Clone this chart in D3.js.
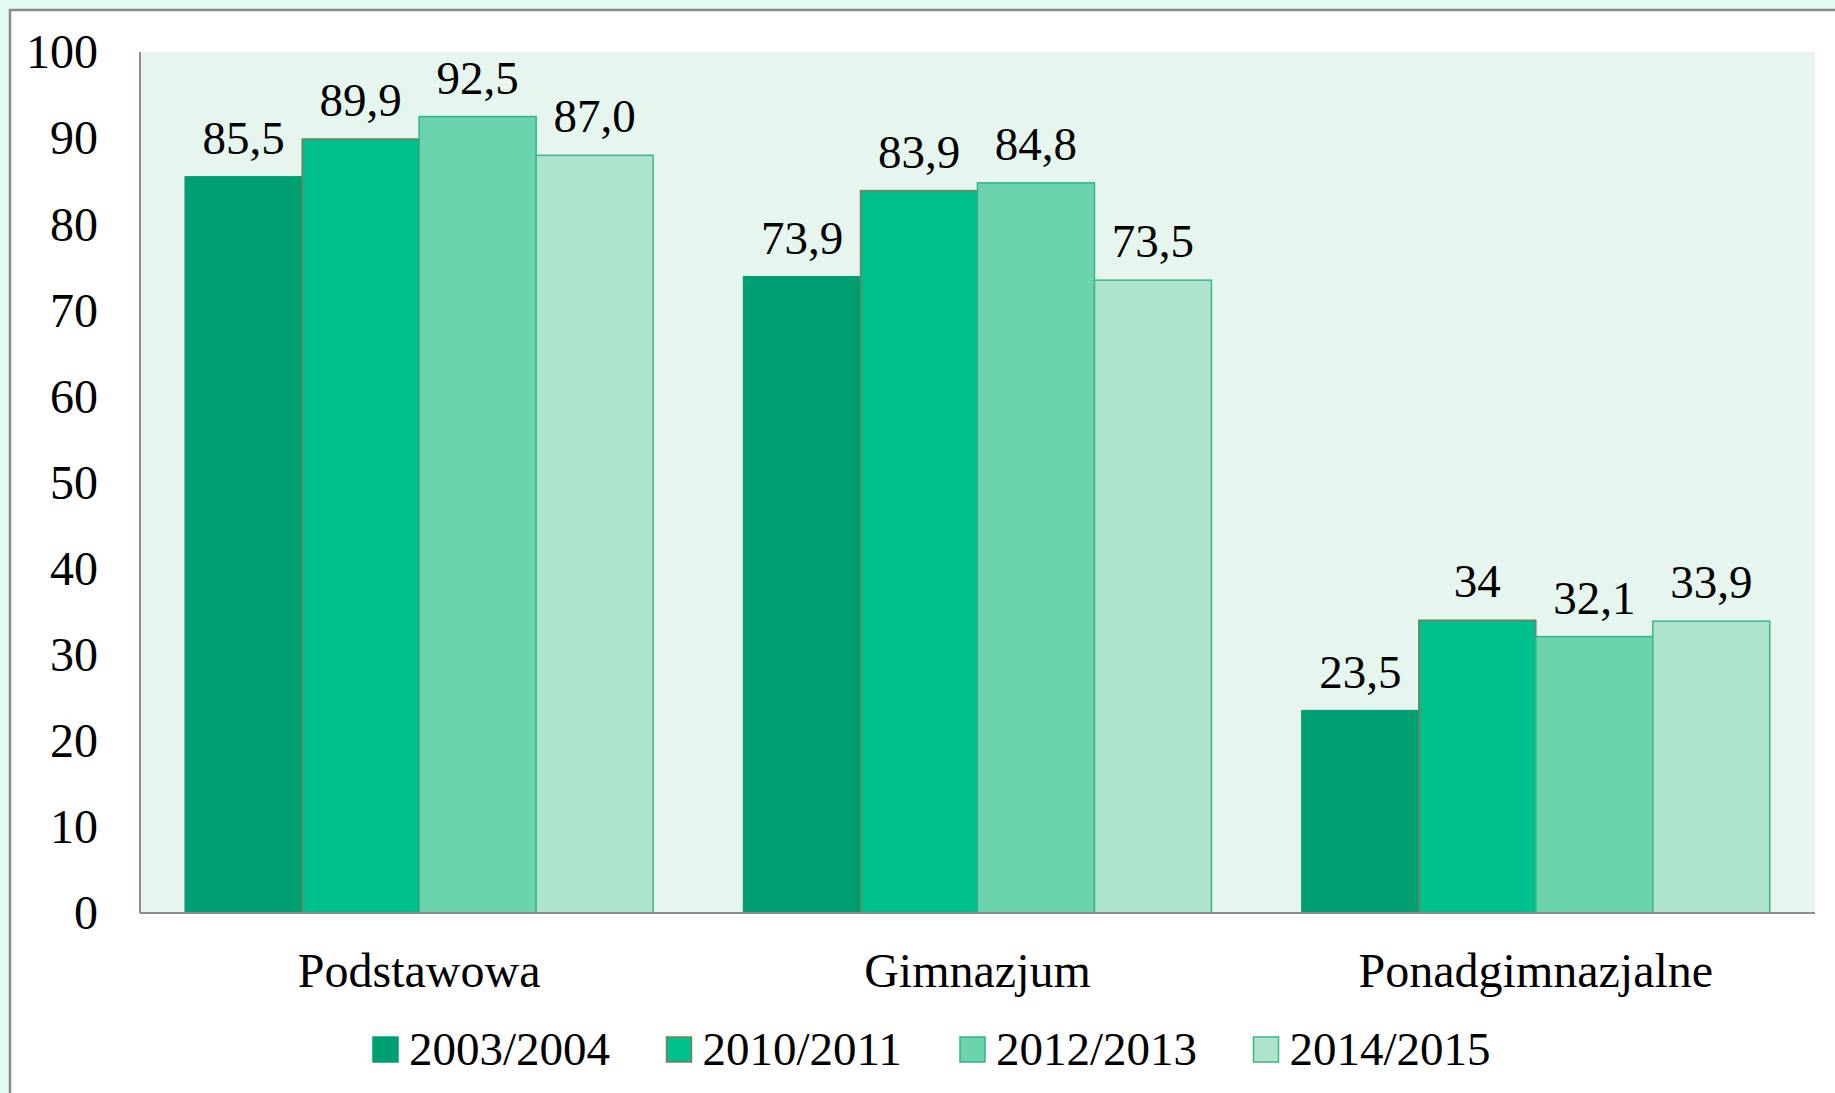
<!DOCTYPE html>
<html>
<head>
<meta charset="utf-8">
<script src="https://cdn.jsdelivr.net/npm/d3@7"></script>
<style>
  html, body { margin: 0; padding: 0; background: #e2fbf1; }
  svg { display: block; font-family: "Liberation Serif", "Times New Roman", serif; }
</style>
</head>
<body>
<div id="chart"></div>
<script>
let width = 1835,
    height = 1093,
    margin = ({ top: 52, right: 20, bottom: 180, left: 140 });

// data (bar heights as drawn in the picture, labels as printed)
const categories = ["Podstawowa", "Gimnazjum", "Ponadgimnazjalne"];
const seriesNames = ["2003/2004", "2010/2011", "2012/2013", "2014/2015"];
const s2003 = [85.5, 73.9, 23.5];
const s2010 = [89.9, 83.9, 34];
const s2012 = [92.5, 84.8, 32.1];
const s2014 = [88.0, 73.5, 33.9];
const labels2003 = ["85,5", "73,9", "23,5"];
const labels2010 = ["89,9", "83,9", "34"];
const labels2012 = ["92,5", "84,8", "32,1"];
const labels2014 = ["87,0", "73,5", "33,9"];
const yTicks = [0, 10, 20, 30, 40, 50, 60, 70, 80, 90, 100];

const fills = ["#009e73", "#00bf8f", "#6bd4ad", "#aee3cc"];
const strokes = ["#009e73", "#7d7d52", "#2fb489", "#3db58b"];

const seriesValues = [s2003, s2010, s2012, s2014];
const seriesLabels = [labels2003, labels2010, labels2012, labels2014];

const svg = d3.select("#chart")
  .append("svg")
  .attr("width", width)
  .attr("height", height);

// white frame
svg.append("rect")
  .attr("x", 10).attr("y", 10)
  .attr("width", width).attr("height", height)
  .attr("fill", "#fff")
  .attr("stroke", "#8a8a8a")
  .attr("stroke-width", 2.5);

let plotBottom = 913,
    plotRight = 1815;

let x = d3.scaleBand()
  .domain(categories)
  .range([margin.left, plotRight])
  .paddingInner(0.162)
  .paddingOuter(0.081);

let xs = d3.scaleBand()
  .domain(seriesNames)
  .range([0, x.bandwidth()]);

let y = d3.scaleLinear()
  .domain([0, 100])
  .range([plotBottom, margin.top]);

// plot area background
svg.append("rect")
  .attr("x", margin.left)
  .attr("y", margin.top)
  .attr("width", plotRight - margin.left)
  .attr("height", plotBottom - margin.top)
  .attr("fill", "#e6f5ee");

// y labels
svg.append("g")
  .selectAll("text")
  .data(yTicks)
  .join("text")
  .attr("x", 98)
  .attr("y", d => y(d))
  .attr("text-anchor", "end")
  .attr("dy", "0.34em")
  .attr("font-size", 48)
  .text(d => d);

// bars
seriesNames.forEach((name, i) => {
  let g = svg.append("g");
  g.selectAll("rect")
    .data(seriesValues[i])
    .join("rect")
    .attr("x", (d, j) => x(categories[j]) + xs(name))
    .attr("y", d => y(d))
    .attr("width", xs.bandwidth())
    .attr("height", d => y(0) - y(d))
    .attr("fill", fills[i])
    .attr("stroke", strokes[i])
    .attr("stroke-width", 1.5);

  g.selectAll("text")
    .data(seriesValues[i])
    .join("text")
    .attr("x", (d, j) => x(categories[j]) + xs(name) + xs.bandwidth() / 2)
    .attr("y", d => y(d) - 23)
    .attr("text-anchor", "middle")
    .attr("font-size", 47)
    .text((d, j) => seriesLabels[i][j]);
});

// axes lines
svg.append("line")
  .attr("x1", margin.left).attr("x2", margin.left)
  .attr("y1", margin.top).attr("y2", plotBottom)
  .attr("stroke", "#8c8c8c").attr("stroke-width", 2);
svg.append("line")
  .attr("x1", margin.left).attr("x2", plotRight)
  .attr("y1", plotBottom).attr("y2", plotBottom)
  .attr("stroke", "#8c8c8c").attr("stroke-width", 2);

// category labels
svg.append("g")
  .selectAll("text")
  .data(categories)
  .join("text")
  .attr("x", d => x(d) + x.bandwidth() / 2)
  .attr("y", 987)
  .attr("text-anchor", "middle")
  .attr("font-size", 48)
  .text(d => d);

// legend
let legend = svg.append("g");
seriesNames.forEach((name, i) => {
  let lx = 373 + i * 293.5;
  legend.append("rect")
    .attr("x", lx).attr("y", 1037)
    .attr("width", 25).attr("height", 25)
    .attr("fill", fills[i])
    .attr("stroke", strokes[i])
    .attr("stroke-width", 1.5);
  legend.append("text")
    .attr("x", lx + 36)
    .attr("y", 1065)
    .attr("font-size", 47)
    .text(name);
});
</script>
</body>
</html>
